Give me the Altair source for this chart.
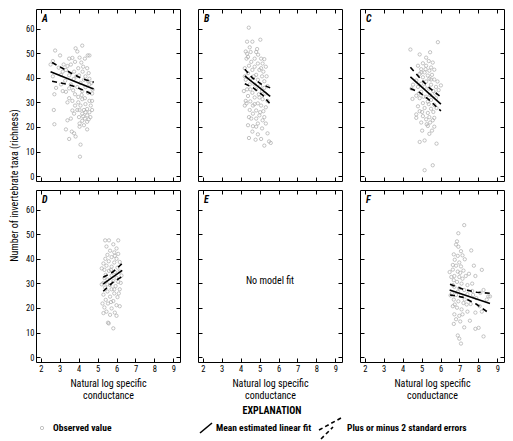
import altair as alt
import pandas as pd

FONT = "Liberation Sans Narrow, Roboto Condensed, DejaVu Sans Condensed, sans-serif"

X_DOMAIN = [1.75, 9.35]
Y_DOMAIN = [-2, 68]
X_TICKS = [2, 3, 4, 5, 6, 7, 8, 9]
Y_TICKS = [0, 10, 20, 30, 40, 50, 60]
X_TITLE = ["Natural log specific", "conductance"]
Y_TITLE = "Number of invertebrate taxa (richness)"
PANELS = ["A", "B", "C", "D", "E", "F"]

W, H = 144, 172

# ---- observed values (x = ln specific conductance, y = richness) ----
a_pts = [(2.76,51.1),(3.02,49.1),(3.84,52.0),(4.19,53.1),(3.93,50.7),(3.5,47.8),(3.67,48.1),(4.05,48.2),
         (4.48,49.1),(4.57,49.1),(2.52,45.4),(2.64,46.8),(3.21,45.4),(3.41,44.8),(3.59,45.4),(3.81,46.5),
         (4.14,46.2),(4.33,47.8),(4.24,44.5),(4.45,43.9),(2.95,44.1),(3.16,42.5),(3.98,43.9),(4.53,41.9),
         (2.64,40.6),(3.29,38.8),(3.5,41.0),(3.74,39.5),(4.02,41.0),(4.28,39.2),(4.57,39.6),(4.67,37.9),
         (2.81,35.9),(3.07,37.3),(2.72,33.3),(3.33,34.3),(3.5,35.7),(3.71,34.9),(3.93,36.2),(4.19,34.6),
         (4.36,36.2),(4.5,33.9),(4.71,33.6),(2.69,26.9),(3.5,31.7),(3.41,30.0),(3.67,30.6),(3.81,28.7),
         (3.98,30.0),(4.1,28.7),(4.19,31.3),(4.36,29.3),(4.57,30.6),(4.64,28.7),(4.45,27.3),(4.28,26.9),
         (4.71,26.9),(4.57,26.0),(4.19,25.4),(4.45,24.7),(4.62,24.0),(4.33,23.4),(4.19,22.5),(4.45,22.1),
         (4.05,21.4),(3.76,25.4),(3.59,23.4),(3.41,22.7),(2.72,21.1),(3.33,19.0),(4.45,19.0),(3.64,18.1),
         (3.76,17.4),(3.84,16.1),(3.5,15.1),(4.1,12.8),(4.07,7.9),(4.05,20.1),(4.28,20.7),(4.53,23.1),
         (3.93,26.9),(3.67,26.7),(4.02,24.0),(3.98,32.2),(4.16,33.0),(4.33,31.7),(4.71,30.6),(4.74,35.2),
         (4.57,37.3),(4.1,37.9),(3.59,37.3),(3.16,34.6),(3.76,42.5),(4.21,42.5),(4.36,40.6),(3.33,43.2),
         (3.07,41.2),(3.88,40.6),(4.5,38.6),(3.81,33.3),(4.05,26.9),(4.36,26.0),(4.24,24.3)]

b_pts = [(4.43,60.4),(5.04,55.5),(4.34,54.7),(4.62,54.7),(4.48,52.4),(4.27,50.7),(4.82,50.5),(4.92,49.4),
         (4.39,48.5),(4.31,47.8),(4.74,47.8),(5.08,47.8),(5.25,47.6),(4.56,46.5),(4.91,45.8),(5.16,45.8),
         (4.44,44.9),(4.74,44.5),(5.33,44.5),(4.22,43.9),(4.62,43.2),(4.99,43.2),(5.2,42.5),(4.39,41.9),
         (4.82,41.2),(5.13,40.6),(5.37,40.6),(4.27,39.2),(4.53,39.6),(4.91,39.2),(5.25,38.6),(4.48,37.3),
         (4.74,37.3),(5.03,36.6),(5.42,36.6),(4.34,35.3),(4.82,35.3),(5.13,34.6),(4.62,33.9),(4.96,33.3),
         (5.3,33.6),(4.39,32.6),(4.74,32.0),(5.16,31.3),(5.42,30.6),(4.51,30.4),(4.91,29.6),(4.22,28.7),
         (4.65,28.7),(5.08,28.7),(5.33,28.0),(4.48,26.9),(4.82,26.7),(5.2,26.4),(4.65,25.4),(4.99,24.7),
         (4.56,23.4),(4.82,23.4),(5.16,22.7),(4.39,20.7),(4.65,20.3),(4.91,21.4),(5.33,21.4),(4.44,15.5),
         (4.79,14.8),(5.08,15.1),(4.91,17.0),(5.42,17.4),(5.5,14.1),(5.25,12.4),(5.59,13.5),(4.22,40.6),
         (4.17,34.6),(4.27,30.6),(5.08,43.9),(4.69,40.6),(5.25,35.9),(4.51,35.3),(4.99,32.0),(4.74,29.3),
         (4.44,24.0),(5.03,26.0),(5.25,24.0),(4.82,20.1),(5.13,19.4),(4.62,18.1),(4.31,29.6),(4.34,49.8),
         (4.87,51.7),(4.53,50.5)]

c_pts = [(5.86,54.5),(4.41,51.5),(4.9,49.5),(5.45,50.4),(5.24,48.2),(5.38,46.8),(5.59,46.2),(5.07,45.9),
         (4.81,44.9),(5.24,44.9),(5.5,44.2),(4.98,43.5),(5.41,42.9),(5.67,43.3),(5.16,42.2),(4.9,41.6),
         (5.33,40.9),(5.55,41.2),(5.07,40.2),(5.41,39.6),(5.67,39.3),(5.84,38.5),(6.02,36.9),(5.24,38.5),
         (4.72,38.9),(4.98,37.6),(5.5,37.2),(5.76,36.3),(5.16,36.3),(5.38,35.6),(4.52,31.4),(4.72,32.7),
         (4.98,34.3),(5.62,34.6),(4.9,31.7),(5.24,32.3),(5.5,31.0),(5.76,31.7),(5.07,29.7),(5.38,29.3),
         (5.67,29.0),(4.81,28.4),(5.16,27.7),(5.5,27.4),(4.9,26.4),(5.33,25.7),(5.62,26.1),(4.72,25.1),
         (5.07,24.4),(5.41,24.0),(5.24,23.1),(5.59,22.7),(4.98,21.8),(5.45,21.8),(5.33,20.4),(5.67,20.1),
         (5.55,18.5),(5.03,18.5),(5.41,17.2),(4.9,13.9),(5.16,14.5),(5.79,13.2),(5.59,4.4),(5.16,2.4),
         (4.72,23.7),(5.79,27.7),(4.55,37.2),(4.47,35.6),(5.9,35.0),(5.67,23.7),(5.03,26.1),(5.27,21.1),
         (4.81,36.3),(5.21,43.5),(4.86,33.6),(5.72,33.6),(5.1,32.3),(5.45,33.0),(4.98,42.2),(5.5,39.3),
         (5.33,30.3)]

d_pts = [(5.6,47.5),(6.09,47.5),(5.4,47.5),(5.83,45.9),(5.47,45.0),(6.0,44.2),(5.66,43.3),(5.88,42.6),
         (5.52,41.6),(6.09,42.0),(5.74,40.7),(5.41,40.0),(6.0,40.0),(5.59,39.0),(5.88,38.5),(6.17,38.7),
         (5.31,38.1),(5.47,37.2),(5.74,36.8),(6.05,36.4),(5.36,35.5),(5.6,35.1),(5.91,34.6),(6.17,34.8),
         (5.43,33.5),(5.74,33.2),(6.0,32.2),(5.52,31.6),(5.83,30.9),(6.09,30.6),(5.31,30.2),(5.66,29.3),
         (5.95,28.9),(5.4,28.3),(5.74,27.6),(6.17,27.6),(5.52,26.7),(5.88,25.9),(5.31,25.4),(5.66,24.6),
         (6.05,24.4),(5.43,23.3),(5.83,22.8),(5.55,21.8),(6.0,21.1),(5.36,20.2),(5.74,19.8),(5.47,18.5),
         (5.91,18.1),(5.31,17.9),(5.66,17.2),(6.0,16.8),(5.55,14.0),(5.59,13.7),(5.83,11.7),(5.22,29.6),
         (6.26,33.2),(5.22,36.1),(6.22,30.2),(5.26,21.8),(5.71,35.5),(5.91,41.2),(5.36,32.2),(6.12,25.9),
         (5.52,29.6),(5.88,27.6),(5.71,22.4),(6.17,20.7)]

e_pts = []

f_pts = [(7.25,53.7),(6.87,47.1),(6.82,45.8),(7.62,43.4),(6.94,44.9),(7.08,43.1),(6.7,41.8),(6.91,41.2),
         (7.16,41.4),(7.28,39.8),(6.75,39.6),(6.99,38.5),(6.82,37.2),(7.08,36.9),(7.76,37.2),(6.48,34.6),
         (6.65,35.6),(6.91,34.8),(7.21,35.2),(7.5,33.9),(8.18,35.5),(6.73,33.0),(6.99,32.6),(7.33,33.0),
         (7.84,33.0),(6.7,31.3),(6.87,30.6),(7.11,29.9),(7.42,29.3),(8.27,27.3),(8.52,24.7),(8.61,24.7),
         (6.73,28.6),(6.99,28.0),(7.25,27.3),(7.67,26.9),(6.6,26.0),(6.82,25.3),(7.08,25.1),(7.42,25.6),
         (7.89,24.0),(6.7,23.4),(6.94,22.7),(7.21,22.0),(7.59,21.6),(8.06,20.7),(6.65,20.7),(6.87,20.1),
         (7.11,19.4),(7.42,18.5),(7.84,18.1),(8.18,18.5),(6.73,17.4),(6.99,16.8),(6.82,15.4),(7.04,14.5),
         (7.55,14.8),(7.84,11.5),(8.01,11.9),(8.27,8.4),(6.91,8.8),(6.99,7.5),(7.08,5.5),(6.7,13.5),
         (7.25,12.1),(6.57,32.6),(7.16,31.9),(6.65,29.3),(7.28,23.4),(6.91,26.6),(7.67,29.9),(8.44,23.4),
         (6.53,25.1),(6.75,21.4),(7.16,17.4),(6.65,37.5),(7.04,34.3),(6.94,50.4),(7.38,21.4),(7.72,25.3),
         (8.1,26.1)]

# ---- mean estimated linear fit and +/- 2 standard errors ----
fit_x = {"A": [2.52, 4.79], "B": [4.22, 5.56], "C": [4.41, 6.02], "D": [5.3, 6.3], "F": [6.48, 8.61]}
fit_y = {"A": [42.5, 35.4], "B": [40.8, 32.4], "C": [40.4, 29.3], "D": [29.8, 35.3], "F": [27.3, 21.8]}
upper_x = {"A": [2.6, 3.15, 3.67, 4.2, 4.8], "B": [4.22, 4.62, 5.08, 5.56], "C": [4.41, 4.9, 5.4, 6.02],
           "D": [5.3, 5.8, 6.3], "F": [6.5, 7.2, 7.9, 8.6]}
upper_y = {"A": [46.2, 43.9, 41.6, 39.6, 38.2], "B": [43.5, 40.0, 37.5, 35.9], "C": [44.3, 40.0, 36.0, 32.2],
           "D": [32.5, 34.6, 38.1], "F": [29.6, 27.6, 26.4, 26.0]}
lower_x = {"A": [2.6, 3.33, 3.84, 4.33, 4.8], "B": [4.22, 4.65, 5.16, 5.56], "C": [4.41, 4.9, 5.4, 6.02],
           "D": [5.3, 5.8, 6.3], "F": [6.5, 7.2, 7.9, 8.6]}
lower_y = {"A": [38.6, 37.5, 36.3, 34.7, 32.9], "B": [37.6, 36.0, 33.0, 29.3], "C": [35.6, 34.0, 31.0, 26.5],
           "D": [26.8, 30.4, 32.8], "F": [25.3, 24.3, 21.5, 17.7]}

pts_by_panel = {"A": a_pts, "B": b_pts, "C": c_pts, "D": d_pts, "E": e_pts, "F": f_pts}
rows = [{"panel": p, "x": x, "y": y} for p, pts in pts_by_panel.items() for x, y in pts]
points_df = pd.DataFrame(rows, columns=["panel", "x", "y"])

line_rows = []
for p in fit_x:
    for kind, xs, ys in (("fit", fit_x[p], fit_y[p]), ("upper", upper_x[p], upper_y[p]),
                         ("lower", lower_x[p], lower_y[p])):
        for i, (x, y) in enumerate(zip(xs, ys)):
            line_rows.append({"panel": p, "kind": kind, "order": i, "x": x, "y": y})
lines_df = pd.DataFrame(line_rows)

ONE = alt.Data(values=[{}])
PT_COLOR = "#ababab"


def make_panel(p, col, row):
    xs = alt.Scale(domain=X_DOMAIN, nice=False, zero=False)
    ys = alt.Scale(domain=Y_DOMAIN, nice=False, zero=False)
    bottom_kw = dict(orient="bottom", values=X_TICKS, format="d", tickSize=4, offset=-4,
                     domain=False, grid=False, labels=(row == 1), labelFontSize=8.5,
                     labelPadding=2, tickColor="black", labelColor="black")
    if row == 1:
        bottom_kw.update(title=X_TITLE, titleFontSize=10, titleFontWeight="normal",
                         titlePadding=6, titleColor="black")
    else:
        bottom_kw.update(title=None)
    left_kw = dict(orient="left", values=Y_TICKS, tickSize=4, offset=-4, domain=False, grid=False,
                   labels=(col == 0), labelFontSize=8.5, labelPadding=2,
                   tickColor="black", labelColor="black")
    if p == "A":
        left_kw.update(title=Y_TITLE, titleFontSize=10, titleFontWeight="normal",
                       titleY=H + 4, titlePadding=6, titleColor="black")
    else:
        left_kw.update(title=None)
    top_axis = alt.Axis(orient="top", values=X_TICKS, tickSize=4, offset=-4, domain=False,
                        grid=False, labels=False, title=None, tickColor="black")
    right_axis = alt.Axis(orient="right", values=Y_TICKS, tickSize=4, offset=-4, domain=False,
                          grid=False, labels=False, title=None, tickColor="black")

    pts = alt.Chart(points_df).transform_filter(alt.datum.panel == p).mark_point(
        shape="circle", filled=False, size=11, strokeWidth=0.7, color=PT_COLOR, opacity=1
    ).encode(
        x=alt.X("x:Q", scale=xs, axis=alt.Axis(**bottom_kw)),
        y=alt.Y("y:Q", scale=ys, axis=alt.Axis(**left_kw)),
    )
    fit = alt.Chart(lines_df).transform_filter(
        (alt.datum.panel == p) & (alt.datum.kind == "fit")
    ).mark_line(color="black", strokeWidth=1.6).encode(
        x=alt.X("x:Q", scale=xs, axis=top_axis),
        y=alt.Y("y:Q", scale=ys, axis=right_axis),
        order="order:Q",
    )
    se = alt.Chart(lines_df).transform_filter(
        (alt.datum.panel == p) & (alt.datum.kind != "fit")
    ).mark_line(color="black", strokeWidth=1.6, strokeDash=[5, 4]).encode(
        x=alt.X("x:Q", scale=xs, axis=None),
        y=alt.Y("y:Q", scale=ys, axis=None),
        detail="kind:N",
        order="order:Q",
    )
    letter = alt.Chart(ONE).mark_text(
        text=p, font=FONT, fontSize=10, fontWeight="bold", fontStyle="italic",
        align="left", baseline="middle", color="black"
    ).encode(x=alt.value(6), y=alt.value(10))
    layers = [pts, fit, se, letter]

    if p == "E":
        nofit = alt.Chart(ONE).mark_text(
            text="No model fit", font=FONT, fontSize=10, align="center", baseline="middle",
            color="black"
        ).encode(x=alt.value(W / 2), y=alt.value(H / 2 + 5))
        expl = alt.Chart(ONE).mark_text(
            text="EXPLANATION", font=FONT, fontSize=10, fontWeight="bold", align="center",
            baseline="middle", color="black"
        ).encode(x=alt.value(74), y=alt.value(H + 49))
        sym_pt = alt.Chart(ONE).mark_point(
            shape="circle", filled=False, size=11, strokeWidth=0.7, color=PT_COLOR, opacity=1
        ).encode(x=alt.value(-156), y=alt.value(H + 66))
        lab1 = alt.Chart(ONE).mark_text(
            text="Observed value", font=FONT, fontSize=9.5, fontWeight="bold", align="left",
            baseline="middle", color="black"
        ).encode(x=alt.value(-145), y=alt.value(H + 66))
        sym_line = alt.Chart(ONE).mark_rule(color="black", strokeWidth=1.6).encode(
            x=alt.value(2), x2=alt.value(14), y=alt.value(H + 71), y2=alt.value(H + 61))
        lab2 = alt.Chart(ONE).mark_text(
            text="Mean estimated linear fit", font=FONT, fontSize=9.5, fontWeight="bold",
            align="left", baseline="middle", color="black"
        ).encode(x=alt.value(18), y=alt.value(H + 66))
        sym_d1 = alt.Chart(ONE).mark_rule(color="black", strokeWidth=1.6, strokeDash=[4, 3]).encode(
            x=alt.value(121), x2=alt.value(143), y=alt.value(H + 68), y2=alt.value(H + 56))
        sym_d2 = alt.Chart(ONE).mark_rule(color="black", strokeWidth=1.6, strokeDash=[4, 3]).encode(
            x=alt.value(123), x2=alt.value(135), y=alt.value(H + 77), y2=alt.value(H + 65))
        lab3 = alt.Chart(ONE).mark_text(
            text="Plus or minus 2 standard errors", font=FONT, fontSize=9.5, fontWeight="bold",
            align="left", baseline="middle", color="black"
        ).encode(x=alt.value(149), y=alt.value(H + 66))
        layers += [nofit, expl, sym_pt, lab1, sym_line, lab2, sym_d1, sym_d2, lab3]

    return alt.layer(*layers).resolve_axis(x="independent", y="independent").properties(
        width=W, height=H)


charts = [make_panel(p, i % 3, i // 3) for i, p in enumerate(PANELS)]

chart = alt.concat(
    *charts, columns=3, spacing={"row": 9, "column": 18}, bounds="flush"
).properties(
    padding={"left": 1, "top": 0, "right": 0, "bottom": 0}
).configure_view(
    stroke="black", strokeWidth=1
).configure_axis(
    labelFont=FONT, titleFont=FONT
).configure_text(font=FONT)

chart.save("out.html", embed_options={"renderer": "svg", "actions": False})
